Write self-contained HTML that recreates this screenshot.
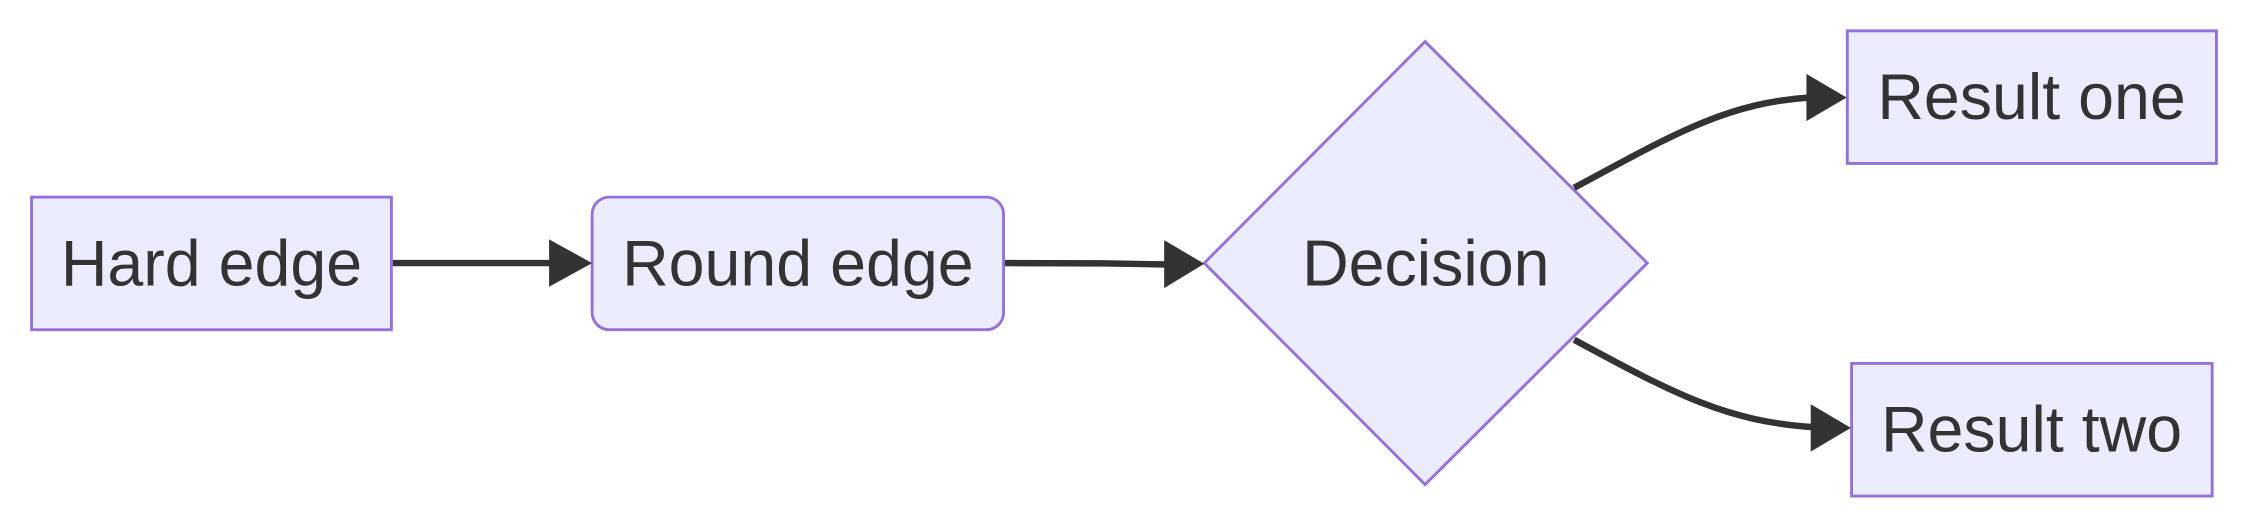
<!DOCTYPE html>
<html><head><style>html,body{margin:0;padding:0;background:#fff;}svg{display:block;}</style></head>
<body>
<svg width="2248" height="528" viewBox="0 0 1568 368.3" preserveAspectRatio="none" xmlns="http://www.w3.org/2000/svg">
<g fill="#ECECFF" stroke="#9370DB" stroke-width="2">
<rect x="22" y="137.5" width="251" height="92.5"/>
<rect x="413" y="137.5" width="287" height="92.5" rx="12" ry="12"/>
<polygon points="994,29 1149,183.5 994,338 840,183.5"/>
<rect x="1288.5" y="21.5" width="257.5" height="92.5"/>
<rect x="1291.5" y="253.5" width="251.5" height="92.5"/>
</g>
<g fill="none" stroke="#333" stroke-width="4.5">
<path d="M274,183.5 L386,183.5"/>
<path d="M701,183.5 L770,183.7 L815,184.5"/>
<path d="M1098,131 C1170,92 1205,72 1262,68"/>
<path d="M1098,237 C1170,276 1205,294 1265,298"/>
</g>
<g fill="#333">
<polygon points="383,167 413,183.5 383,200"/>
<polygon points="812,167.5 840,184 812,201"/>
<polygon points="1260,51.5 1288,68 1260,84.5"/>
<polygon points="1263,282 1291,298.5 1263,315"/>
</g>
<g font-family="Liberation Sans, sans-serif" font-size="45" fill="#333" text-anchor="middle">
<text x="147.5" y="199">Hard edge</text>
<text x="556.5" y="199">Round edge</text>
<text x="994.5" y="199">Decision</text>
<text x="1417" y="83">Result one</text>
<text x="1417" y="315">Result two</text>
</g>
</svg>
</body></html>
